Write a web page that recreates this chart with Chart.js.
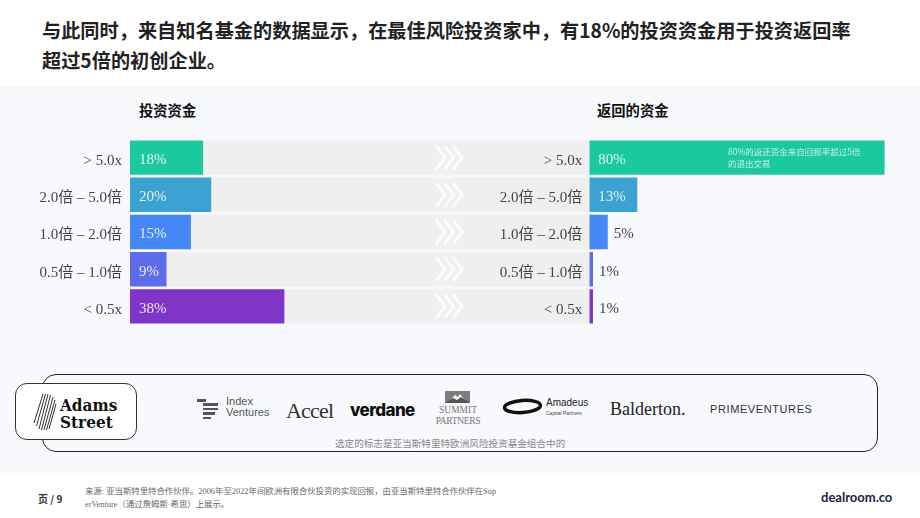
<!DOCTYPE html>
<html lang="zh">
<head>
    <meta charset="UTF-8">
    <title>投资资金与返回的资金</title>
    <script src="https://cdn.jsdelivr.net/npm/chart.js@4.4.0/dist/chart.umd.min.js"></script>
    <style>
        body { margin: 0; width: 920px; height: 518px; position: relative; overflow: hidden; background: #fff;
               font-family: "Noto Sans CJK SC", "Noto Sans", sans-serif; }
        .abs { position: absolute; white-space: nowrap; }
        #band { left: 0; top: 86px; width: 920px; height: 387px; background: #f8f9fd; }
        #headline { left: 42px; top: 15px; font-size: 19.2px; font-weight: bold; line-height: 30px; color: #222; }
        .sect { font-size: 14.3px; font-weight: bold; color: #111; top: 100px; line-height: 20px; }
        #logoBox { left: 42px; top: 374px; width: 834px; height: 76px; border: 1.3px solid #222; border-radius: 14px; }
        #adams { left: 15px; top: 383px; width: 120px; height: 55px; border: 1px solid #333; border-radius: 12px; background: #fff; }
        .adamsTxt { font-family: "DejaVu Serif Condensed", "DejaVu Serif", serif; font-stretch: condensed; font-weight: bold;
                    font-size: 17px; line-height: 17px; color: #111; left: 60px; }
        .grey { color: #555; }
    </style>
</head>
<body>
    <div class="abs" id="band"></div>
    <div class="abs" id="headline">与此同时，来自知名基金的数据显示，在最佳风险投资家中，有18%的投资资金用于投资返回率<br>超过5倍的初创企业。</div>

    <div class="abs sect" style="left:139px;">投资资金</div>
    <div class="abs sect" style="left:597px;">返回的资金</div>

    <canvas id="leftChart" class="abs" style="left:0; top:139px;" width="589" height="186"></canvas>
    <canvas id="rightChart" class="abs" style="left:480px; top:139px;" width="440" height="186"></canvas>

    <!-- logo strip -->
    <div class="abs" id="logoBox"></div>
    <div class="abs" id="adams"></div>
    <svg class="abs" style="left:33px; top:393px;" width="24" height="38" viewBox="0 0 24 38">
        <g stroke="#333" stroke-width="1">
            <line x1="10" y1="1" x2="1" y2="30"/><line x1="12.5" y1="1" x2="3.5" y2="33"/>
            <line x1="15" y1="1" x2="6" y2="36"/><line x1="17.5" y1="2" x2="8.5" y2="37"/>
            <line x1="20" y1="4" x2="11" y2="37"/><line x1="22" y1="7" x2="13.5" y2="37"/>
            <line x1="23" y1="11" x2="16" y2="36"/>
        </g>
    </svg>
    <div class="abs adamsTxt" style="top:397px;">Adams</div>
    <div class="abs adamsTxt" style="top:414px;">Street</div>

    <div class="abs" style="left:197px; top:399px; width:9px; height:2.5px; background:#555;"></div>
    <div class="abs" style="left:203px; top:403px; width:15px; height:2.5px; background:#555;"></div>
    <div class="abs" style="left:203px; top:407.5px; width:15px; height:2.5px; background:#555;"></div>
    <div class="abs" style="left:203px; top:412px; width:12px; height:2.5px; background:#555;"></div>
    <div class="abs" style="left:203px; top:416.5px; width:8px; height:2.5px; background:#555;"></div>
    <div class="abs grey" style="left:226px; top:396px; font:11px/11px 'Liberation Sans Narrow','Liberation Sans',sans-serif;">Index</div>
    <div class="abs grey" style="left:226px; top:407px; font:11px/11px 'Liberation Sans Narrow','Liberation Sans',sans-serif;">Ventures</div>

    <div class="abs" style="left:286px; top:398px; font:22px/26px 'Liberation Serif',serif; letter-spacing:-0.8px; color:#333;">Accel</div>
    <div class="abs" style="left:350px; top:399px; font:800 17px/22px Inter,sans-serif; letter-spacing:-0.6px; color:#111;">verdane</div>

    <svg class="abs" style="left:445px; top:391px;" width="25" height="12" viewBox="0 0 25 12">
        <rect width="25" height="12" fill="#7d7d7d"/>
        <path d="M3 12 L10 4 L13 6 L15 3 L22 12 Z" fill="#fff"/>
        <path d="M0 12 L8 7 L12 9 L16 6 L25 12 Z" fill="#555"/>
    </svg>
    <div class="abs" style="left:434px; top:405px; width:48px; text-align:center; font:9.5px/10px 'Liberation Serif',serif; color:#777;">SUMMIT</div>
    <div class="abs" style="left:432px; top:416px; width:52px; text-align:center; font:9.5px/10px 'Liberation Serif',serif; color:#777; letter-spacing:-0.3px;">PARTNERS</div>

    <svg class="abs" style="left:501px; top:397px;" width="43" height="19" viewBox="0 0 43 19">
        <ellipse cx="21.5" cy="9.5" rx="18" ry="6" fill="none" stroke="#111" stroke-width="3.5" transform="rotate(-4 21.5 9.5)"/>
    </svg>
    <div class="abs" style="left:546px; top:398px; font:10px/10px 'Liberation Sans',sans-serif; color:#222;">Amadeus</div>
    <div class="abs" style="left:546px; top:410px; font:5px/6px 'Liberation Sans',sans-serif; color:#444;">Capital Partners</div>

    <div class="abs" style="left:610px; top:398px; font:18px/22px 'Liberation Serif',serif; color:#222;">Balderton.</div>
    <div class="abs" style="left:710px; top:403px; font:11px/13px 'Liberation Sans',sans-serif; letter-spacing:0.6px; color:#333;">PRIMEVENTURES</div>

    <div class="abs" style="left:335px; top:437px; font-size:9.6px; line-height:12px; color:#888;">选定的标志是亚当斯特里特欧洲风险投资基金组合中的</div>

    <!-- footer -->
    <div class="abs" style="left:38px; top:492px; font-size:10px; line-height:14px; font-weight:bold; color:#333;">页 / 9</div>
    <div class="abs" style="left:85px; top:486px; font:8.4px/12.5px 'Liberation Serif','Noto Sans CJK SC',serif; color:#666;">来源: 亚当斯特里特合作伙伴。2006年至2022年间欧洲有限合伙投资的实现回报，由亚当斯特里特合作伙伴在Sup<br>erVenture（通过詹姆斯·希思）上展示。</div>
    <div class="abs" style="left:821px; top:489px; font:bold 13px/16px Lato,sans-serif; color:#1b2345;">dealroom.co</div>

    <script>
        // categories and values
        const categories = ['> 5.0x', '2.0倍 – 5.0倍', '1.0倍 – 2.0倍', '0.5倍 – 1.0倍', '< 0.5x'];
        const investedShare = [18, 20, 15, 9, 38];
        const returnedShare = [80, 13, 5, 1, 1];
        const barColors = ['#1cc8a0', '#3aa3d1', '#4487f5', '#5f6ce9', '#7f35c8'];
        const returnedNote = ['80%的返还资金来自回报率超过5倍', '的退出交易'];

        const leftMax = 113;
        const rightMax = 89.6;
        const serif = '"Liberation Serif", "Noto Sans CJK SC", serif';

        // % labels, inside the bar when it fits, otherwise just after it
        const valueLabels = {
            id: 'valueLabels',
            afterDatasetsDraw(chart) {
                const ctx = chart.ctx;
                const meta = chart.getDatasetMeta(0);
                const values = chart.data.datasets[0].data;
                ctx.save();
                ctx.font = '15px ' + serif;
                ctx.textBaseline = 'middle';
                ctx.textAlign = 'left';
                meta.data.forEach((bar, i) => {
                    const text = values[i] + '%';
                    const w = ctx.measureText(text).width;
                    if (bar.x - bar.base > w + 14) {
                        ctx.fillStyle = 'rgba(255,255,255,0.85)';
                        ctx.fillText(text, bar.base + 9, bar.y + 2.5);
                    } else {
                        ctx.fillStyle = '#444';
                        ctx.fillText(text, bar.x + 6, bar.y + 2.5);
                    }
                });
                ctx.restore();
            }
        };

        // the >>> marks on the grey tracks
        const chevrons = {
            id: 'chevrons',
            afterDatasetsDraw(chart) {
                const ctx = chart.ctx;
                const meta = chart.getDatasetMeta(1);
                ctx.save();
                ctx.strokeStyle = 'rgba(255,255,255,0.8)';
                ctx.lineWidth = 3;
                meta.data.forEach(bar => {
                    for (let k = 0; k < 3; k++) {
                        const x0 = chart.chartArea.right - 153 + k * 8.5;
                        ctx.beginPath();
                        ctx.moveTo(x0, bar.y - 12);
                        ctx.lineTo(x0 + 9, bar.y);
                        ctx.lineTo(x0, bar.y + 12);
                        ctx.stroke();
                    }
                });
                ctx.restore();
            }
        };

        const note = {
            id: 'note',
            afterDatasetsDraw(chart) {
                const ctx = chart.ctx;
                const bar = chart.getDatasetMeta(0).data[0];
                ctx.save();
                ctx.font = '8.5px "Noto Sans CJK SC", sans-serif';
                ctx.fillStyle = 'rgba(255,255,255,0.75)';
                ctx.textBaseline = 'middle';
                const x = bar.base + (bar.x - bar.base) * 0.47;
                ctx.fillText(returnedNote[0], x, bar.y - 6);
                ctx.fillText(returnedNote[1], x, bar.y + 6);
                ctx.restore();
            }
        };

        function yAxis(width, pad) {
            return {
                grid: { display: false, drawTicks: false, tickLength: 0 },
                border: { display: false },
                ticks: { font: { family: serif, size: 15 }, color: '#444', padding: pad, labelOffset: 3.5 },
                afterFit(scale) {
                    // fixed label column, no extra room above/below the bars
                    scale.width = width;
                    scale.paddingTop = 0;
                    scale.paddingBottom = 0;
                }
            };
        }

        const common = {
            indexAxis: 'y',
            responsive: false,
            animation: false,
            layout: { padding: 0 },
            plugins: { legend: { display: false }, tooltip: { enabled: false } }
        };

        new Chart(document.getElementById('leftChart'), {
            type: 'bar',
            data: {
                labels: categories,
                datasets: [
                    {
                        data: investedShare,
                        backgroundColor: barColors,
                        grouped: false,
                        order: 1,
                        barPercentage: 0.925,
                        categoryPercentage: 1
                    },
                    {
                        data: categories.map(() => leftMax),
                        backgroundColor: '#efefef',
                        grouped: false,
                        order: 2,
                        barPercentage: 0.925,
                        categoryPercentage: 1
                    }
                ]
            },
            options: {
                ...common,
                scales: {
                    x: { display: false, min: 0, max: leftMax },
                    y: yAxis(130, 8)
                }
            },
            plugins: [chevrons, valueLabels]
        });

        new Chart(document.getElementById('rightChart'), {
            type: 'bar',
            data: {
                labels: categories,
                datasets: [
                    {
                        data: returnedShare,
                        backgroundColor: barColors,
                        barPercentage: 0.925,
                        categoryPercentage: 1
                    }
                ]
            },
            options: {
                ...common,
                scales: {
                    x: { display: false, min: 0, max: rightMax },
                    y: yAxis(109.3, 7)
                }
            },
            plugins: [valueLabels, note]
        });
    </script>
</body>
</html>
